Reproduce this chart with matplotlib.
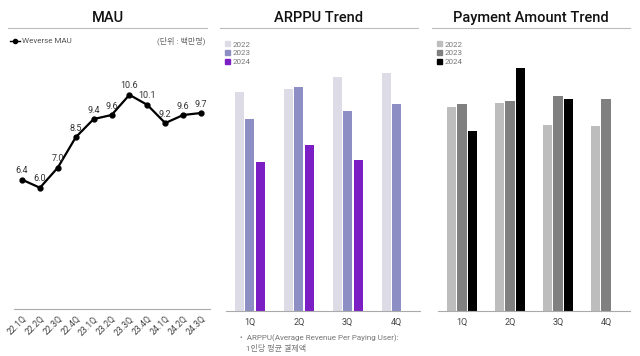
import matplotlib
matplotlib.use("Agg")
import matplotlib.pyplot as plt
import numpy as np
from matplotlib.lines import Line2D
from matplotlib.patches import Patch

plt.rcParams['font.family'] = ['Roboto', 'Noto Sans CJK KR', 'DejaVu Sans']

# data
mau_quarters = ['22.1Q', '22.2Q', '22.3Q', '22.4Q', '23.1Q', '23.2Q',
                '23.3Q', '23.4Q', '24.1Q', '24.2Q', '24.3Q']
mau_values = [6.4, 6.0, 7.0, 8.5, 9.4, 9.6, 10.6, 10.1, 9.2, 9.6, 9.7]

quarters = ['1Q', '2Q', '3Q', '4Q']
years = ['2022', '2023', '2024']

arppu_2022 = [21.9, 22.2, 23.4, 23.8]
arppu_2023 = [19.2, 22.4, 20.0, 20.7]
arppu_2024 = [14.9, 16.6, 15.1]

pay_2022 = [20.4, 20.8, 18.6, 18.5]
pay_2023 = [20.7, 21.0, 21.5, 21.2]
pay_2024 = [18.0, 24.3, 21.2]

arppu_colors = ['#dcdbe6', '#8d8fc4', '#7b1fc4']
pay_colors = ['#bdbdbd', '#808080', '#000000']

W, H = 640, 356
fig = plt.figure(figsize=(W / 100, H / 100), dpi=100)
fig.patch.set_facecolor('white')


def box(l, t, r, b):
    return [l / W, 1 - b / H, (r - l) / W, (b - t) / H]


def fx(x):
    return x / W


def fy(y):
    return 1 - y / H


def header(title, x0, x1):
    fig.text(fx((x0 + x1) / 2), fy(18), title, ha='center', va='center',
             fontsize=10.5, fontweight='medium', color='#111111')
    fig.add_artist(Line2D([fx(x0), fx(x1)], [fy(28), fy(28)],
                          transform=fig.transFigure, color='#bbbbbb', lw=0.8))


def style_axes(ax):
    for s in ['top', 'right', 'left']:
        ax.spines[s].set_visible(False)
    ax.spines['bottom'].set_color('#aaaaaa')
    ax.spines['bottom'].set_linewidth(0.8)
    ax.set_yticks([])
    ax.tick_params(axis='x', length=0, labelsize=6.5, labelcolor='#444444', pad=5)
    ax.set_facecolor('none')


# MAU
header('MAU', 8, 207)
ax1 = fig.add_axes(box(14, 55, 210, 309))
x = np.arange(len(mau_values))
ax1.plot(x, mau_values, color='black', lw=1.6, marker='o', markersize=3.5)
for xi, v in zip(x, mau_values):
    ax1.text(xi, v + 0.22, f'{v:.1f}', ha='center', va='bottom',
             fontsize=6.5, color='#333333')
ax1.set_xlim(-0.45, 10.5)
ax1.set_ylim(0, 12.57)
style_axes(ax1)
ax1.set_xticks(x)
ax1.set_xticklabels(mau_quarters, rotation=45, ha='right',
                    rotation_mode='anchor', fontsize=6.3)
ax1.tick_params(axis='x', pad=4)
fig.legend(handles=[Line2D([0], [0], color='black', lw=1.0, marker='o',
                           markersize=3)],
           labels=['Weverse MAU'], loc='center left',
           bbox_to_anchor=(fx(3), fy(41)), frameon=False, fontsize=5.8,
           handlelength=1.2, handletextpad=0.3, labelcolor='#555555')
fig.text(fx(205), fy(41), '(단위 : 백만명)', ha='right', va='center',
         fontsize=5.8, color='#666666')


def bar_panel(rect, title, hx0, hx1, series, colors, xlim, width, offset):
    header(title, hx0, hx1)
    ax = fig.add_axes(rect)
    for k, (vals, c) in enumerate(zip(series, colors)):
        pos = np.arange(len(vals)) + (k - 1) * offset
        ax.bar(pos, vals, width=width, color=c, label=years[k])
    ax.set_xlim(*xlim)
    ax.set_ylim(0, 25.6)
    style_axes(ax)
    ax.set_xticks(np.arange(len(quarters)))
    ax.set_xticklabels(quarters)
    fig.legend(handles=[Patch(color=c) for c in colors], labels=years,
               loc='upper left', bbox_to_anchor=(fx(hx0 - 2), fy(34)),
               frameon=False, fontsize=5.8, handlelength=0.6,
               handleheight=0.6, handletextpad=0.3, labelspacing=0.3,
               labelcolor='#777777')
    return ax


bar_panel(box(226, 55, 420, 311), 'ARPPU Trend', 220, 418,
          [arppu_2022, arppu_2023, arppu_2024], arppu_colors,
          (-0.49, 3.48), 0.185, 0.215)
fig.text(fx(240), fy(338), '•  ARPPU(Average Revenue Per Paying User):',
         ha='left', va='center', fontsize=5.8, color='#777777')
fig.text(fx(246), fy(348), '1인당 평균 결제액', ha='left', va='center',
         fontsize=5.8, color='#777777')

bar_panel(box(438, 55, 630, 311), 'Payment Amount Trend', 432, 630,
          [pay_2022, pay_2023, pay_2024], pay_colors,
          (-0.5, 3.5), 0.19, 0.22)

fig.savefig('out.png', dpi=100, facecolor='white')
